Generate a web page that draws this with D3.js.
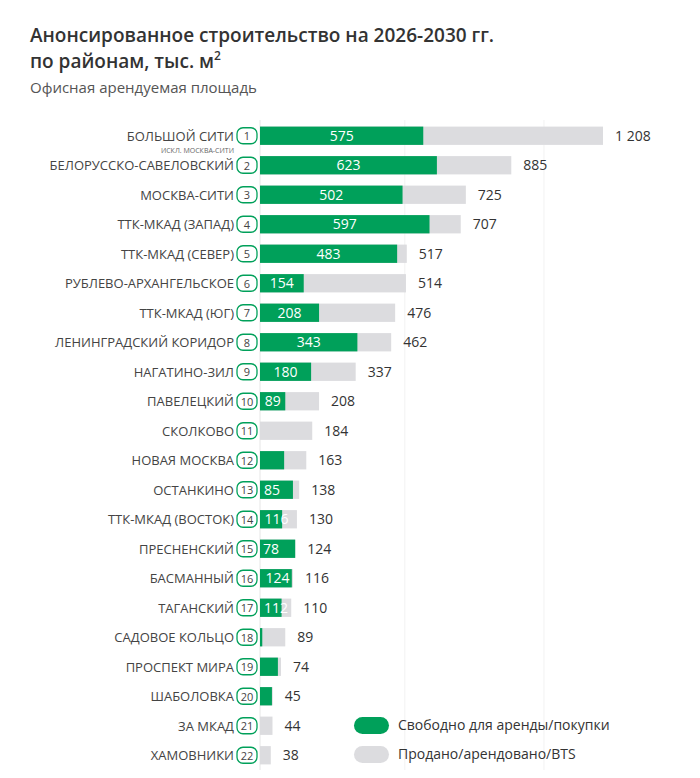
<!DOCTYPE html>
<html><head><meta charset="utf-8">
<script src="https://cdn.jsdelivr.net/npm/d3@7"></script>
<style>body{margin:0;background:#fff;font-family:"Open Sans",sans-serif}</style>
</head><body>
<script>
const districts = ["БОЛЬШОЙ СИТИ","БЕЛОРУССКО-САВЕЛОВСКИЙ","МОСКВА-СИТИ","ТТК-МКАД (ЗАПАД)","ТТК-МКАД (СЕВЕР)","РУБЛЕВО-АРХАНГЕЛЬСКОЕ","ТТК-МКАД (ЮГ)","ЛЕНИНГРАДСКИЙ КОРИДОР","НАГАТИНО-ЗИЛ","ПАВЕЛЕЦКИЙ","СКОЛКОВО","НОВАЯ МОСКВА","ОСТАНКИНО","ТТК-МКАД (ВОСТОК)","ПРЕСНЕНСКИЙ","БАСМАННЫЙ","ТАГАНСКИЙ","САДОВОЕ КОЛЬЦО","ПРОСПЕКТ МИРА","ШАБОЛОВКА","ЗА МКАД","ХАМОВНИКИ"];
const totals = [1208,885,725,707,517,514,476,462,337,208,184,163,138,130,124,116,110,89,74,45,44,38];
const free = [575,623,502,597,483,154,208,343,180,89,0,85,116,78,124,112,76,8,63,42,0,0];
const freeLabels = [575,623,502,597,483,154,208,343,180,89,null,85,116,78,124,112,76,null,null,null,null,null];

const W=700,H=778;
const svg=d3.select("body").append("svg").attr("width",W).attr("height",H);
const green="#00a05a", grey="#dcdcdf";

svg.append("text").attr("x",30).attr("y",42).attr("font-size",19).attr("font-weight",600).attr("fill","#333").text("Анонсированное строительство на 2026-2030 гг.");
const t2=svg.append("text").attr("x",30).attr("y",68).attr("font-size",19).attr("font-weight",600).attr("fill","#333").text("по районам, тыс. м");
t2.append("tspan").attr("font-size",12).attr("dy",-8).text("2");
svg.append("text").attr("x",30).attr("y",93).attr("font-size",15).attr("fill","#555").text("Офисная арендуемая площадь");

const x=d3.scaleLinear().domain([0,1208]).range([260,603]);
const y=d3.scaleBand().domain(districts).range([121,770]).paddingInner(0.38).paddingOuter(0.19);

// faint grid
[510,1000].forEach(v=>svg.append("line").attr("x1",x(v)).attr("x2",x(v)).attr("y1",120).attr("y2",770).attr("stroke","#f2f2f2"));
svg.append("line").attr("x1",x(0)).attr("x2",x(0)).attr("y1",120).attr("y2",770).attr("stroke","#e6e6e6");

const row=svg.selectAll("g.r").data(districts).join("g").attr("class","r");
row.append("rect").attr("x",x(0)).attr("y",d=>y(d)).attr("height",y.bandwidth()).attr("width",(d,i)=>x(totals[i])-x(0)).attr("fill",grey);
row.append("rect").attr("x",x(0)).attr("y",d=>y(d)).attr("height",y.bandwidth()).attr("width",(d,i)=>x(free[i])-x(0)).attr("fill",green);
row.filter((d,i)=>freeLabels[i]!=null).append("text")
  .attr("x",(d,i)=>freeLabels[i]<100?x(0)+(x(free[i])-x(0))/2:(x(0)+x(free[i]))/2)
  .attr("y",d=>y(d)+y.bandwidth()/2+5).attr("text-anchor","middle").attr("fill","#fff").attr("font-size",14)
  .text((d,i)=>freeLabels[i]);
row.append("text").attr("x",(d,i)=>x(totals[i])+12).attr("y",d=>y(d)+y.bandwidth()/2+5).attr("font-size",14).attr("fill","#333")
  .text((d,i)=>d3.format(",")(totals[i]).replace(",","\u00a0"));
row.append("rect").attr("x",237).attr("y",d=>y(d)+y.bandwidth()/2-8).attr("width",20).attr("height",16).attr("rx",6)
  .attr("fill","#fff").attr("stroke",green).attr("stroke-width",1.3);
row.append("text").attr("x",247).attr("y",d=>y(d)+y.bandwidth()/2+4.5).attr("text-anchor","middle").attr("font-size",11).attr("fill","#444")
  .text((d,i)=>i+1);
row.append("text").attr("x",234).attr("y",d=>y(d)+y.bandwidth()/2+5).attr("text-anchor","end").attr("font-size",13).attr("fill","#444")
  .text(d=>d);
svg.append("text").attr("x",234).attr("y",y(districts[0])+y.bandwidth()/2+17).attr("text-anchor","end").attr("font-size",7).attr("fill","#666").text("ИСКЛ. МОСКВА-СИТИ");

// legend
const leg=[["Свободно для аренды/покупки",green],["Продано/арендовано/BTS",grey]];
leg.forEach((l,i)=>{
  const ly=725+i*29;
  svg.append("rect").attr("x",354).attr("y",ly-8).attr("width",35).attr("height",17).attr("rx",8.5).attr("fill",l[1]);
  svg.append("text").attr("x",398).attr("y",ly+5).attr("font-size",14).attr("fill","#333").text(l[0]);
});
</script>
</body></html>
